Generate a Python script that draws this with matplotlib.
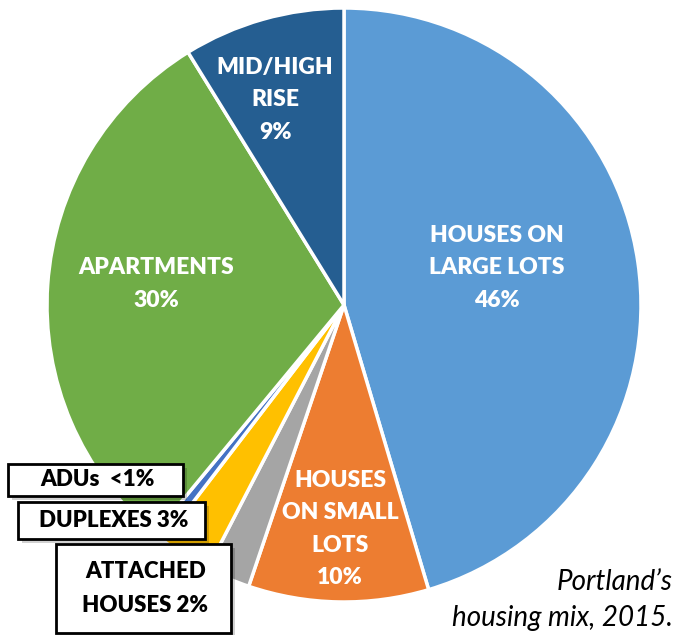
import matplotlib.pyplot as plt
from matplotlib.patches import Rectangle

# slices clockwise from 12 o'clock, shares
categories = ["Houses on large lots", "Houses on small lots", "Attached houses",
              "Duplexes", "ADUs", "Apartments", "Mid/high rise"]
shares = [45.4, 9.8, 2.4, 2.8, 0.6, 30.2, 8.8]
colors = ["#5B9BD5", "#ED7D31", "#A5A5A5", "#FFC000", "#4472C4", "#70AD47", "#255E91"]

# labels drawn inside the big slices
inner_labels = {
    "Houses on large lots": "HOUSES ON\nLARGE LOTS\n46%",
    "Houses on small lots": "HOUSES\nON SMALL\nLOTS\n10%",
    "Apartments": "APARTMENTS\n30%",
    "Mid/high rise": "MID/HIGH\nRISE\n9%",
}
# callout boxes for the thin slices
box_labels = {
    "ADUs": "ADUs  <1%",
    "Duplexes": "DUPLEXES 3%",
    "Attached houses": "ATTACHED\nHOUSES 2%",
}
caption = "Portland\u2019s\nhousing mix, 2015."

W, H = 677, 635
fig = plt.figure(figsize=(W / 100, H / 100), dpi=100)
ax = fig.add_axes([0, 0, 1, 1])

def py(y):
    # pixel row (from top) -> data y
    return H - y

ax.pie(shares, colors=colors, startangle=90, counterclock=False,
       center=(344, py(305)), radius=297,
       wedgeprops=dict(edgecolor="white", linewidth=2.5))

ax.set_xlim(0, W)
ax.set_ylim(0, H)
ax.set_aspect("equal")
ax.axis("off")

font = ["Lato", "DejaVu Sans"]
inner_pos = {
    "Houses on large lots": (497, 268),
    "Houses on small lots": (340, 529),
    "Apartments": (156, 284),
    "Mid/high rise": (275, 100),
}
for name, txt in inner_labels.items():
    x, y = inner_pos[name]
    ax.text(x, py(y), txt, ha="center", va="center", color="white",
            fontsize=16.5, fontweight="heavy", family=font, linespacing=1.68)

# boxes: left, top, right, bottom in pixels
box_pos = {
    "ADUs": (8, 464, 183, 496),
    "Duplexes": (18, 502, 205, 539),
    "Attached houses": (56, 544, 231, 633),
}
for name, txt in box_labels.items():
    l, t, r, b = box_pos[name]
    ax.add_patch(Rectangle((l + 4, py(b) - 4), r - l, b - t, facecolor="#000000",
                           alpha=0.18, edgecolor="none", zorder=4))
    ax.add_patch(Rectangle((l, py(b)), r - l, b - t, facecolor="white",
                           edgecolor="black", linewidth=2, zorder=5))
    ax.text((l + r) / 2 + 2, py((t + b) / 2), txt, ha="center", va="center",
            color="black", fontsize=16, fontweight="heavy", family=font,
            linespacing=1.75, zorder=6)

ax.text(673, py(600), caption, ha="right", va="center", color="black",
        fontsize=20, style="italic", family=font, linespacing=1.5)

fig.savefig("out.png", dpi=100)
